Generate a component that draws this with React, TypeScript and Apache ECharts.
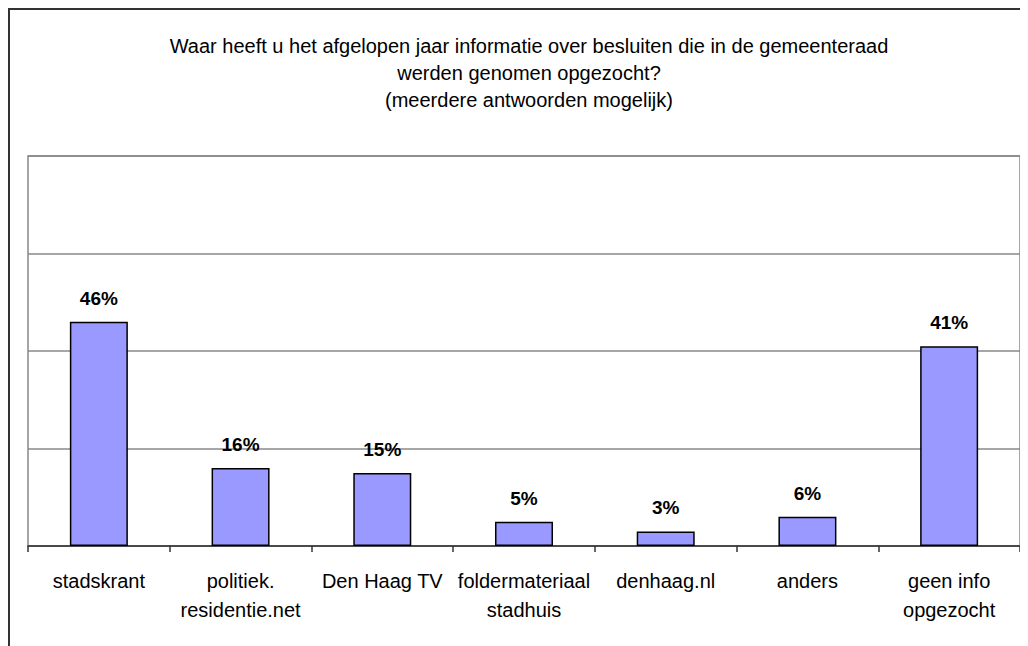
import React, { useEffect, useRef } from "react";
import * as echarts from "echarts";

const categories = [
  "stadskrant",
  "politiek.\nresidentie.net",
  "Den Haag TV",
  "foldermateriaal\nstadhuis",
  "denhaag.nl",
  "anders",
  "geen info\nopgezocht",
];
const values = [46, 16, 15, 5, 3, 6, 41];
const titleText =
  "Waar heeft u het afgelopen jaar informatie over besluiten die in de gemeenteraad\nwerden genomen opgezocht?\n(meerdere antwoorden mogelijk)";

const FONT = "'Liberation Sans', Arial, sans-serif";

export default function App() {
  const ref = useRef<HTMLDivElement>(null);
  useEffect(() => {
    if (!ref.current) return;
    const chart = echarts.init(ref.current, undefined, { renderer: "svg" });
    chart.setOption({
      animation: false,
      backgroundColor: "#fff",
      textStyle: { fontFamily: FONT },
      title: {
        text: titleText,
        left: 516,
        top: 19,
        textAlign: "center",
        textStyle: {
          fontFamily: FONT,
          fontSize: 20,
          fontWeight: "normal",
          color: "#000",
          lineHeight: 27,
        },
      },
      graphic: [
        {
          type: "rect",
          shape: { x: 1, y: 1, width: 3000, height: 3000 },
          style: { fill: "none", stroke: "#333", lineWidth: 2 },
          silent: true,
        },
      ],
      grid: {
        left: 20,
        right: 8,
        top: 148,
        height: 390,
        show: true,
        borderColor: "#888",
        borderWidth: 1.5,
        backgroundColor: "transparent",
      },
      xAxis: {
        type: "category",
        data: categories,
        axisLine: { show: true, lineStyle: { color: "#333", width: 1.5 } },
        axisTick: { show: true, length: 6, lineStyle: { color: "#333", width: 1.5 } },
        axisLabel: {
          interval: 0,
          fontFamily: FONT,
          fontSize: 20,
          color: "#000",
          margin: 20,
          lineHeight: 29,
        },
      },
      yAxis: {
        type: "value",
        min: 0,
        max: 80,
        interval: 20,
        axisLabel: { show: false },
        axisLine: { show: false },
        axisTick: { show: false },
        splitLine: { show: true, lineStyle: { color: "#888", width: 1.5 } },
      },
      series: [
        {
          type: "bar",
          data: values,
          barWidth: 58,
          itemStyle: { color: "#9999FF", borderColor: "#000", borderWidth: 1.5 },
          label: {
            show: true,
            position: "top",
            distance: 14,
            formatter: "{c}%",
            fontFamily: FONT,
            fontSize: 19,
            fontWeight: "bold",
            color: "#000",
          },
        },
      ],
    });
    return () => chart.dispose();
  }, []);
  return <div ref={ref} style={{ width: 1020, height: 638 }} />;
}
